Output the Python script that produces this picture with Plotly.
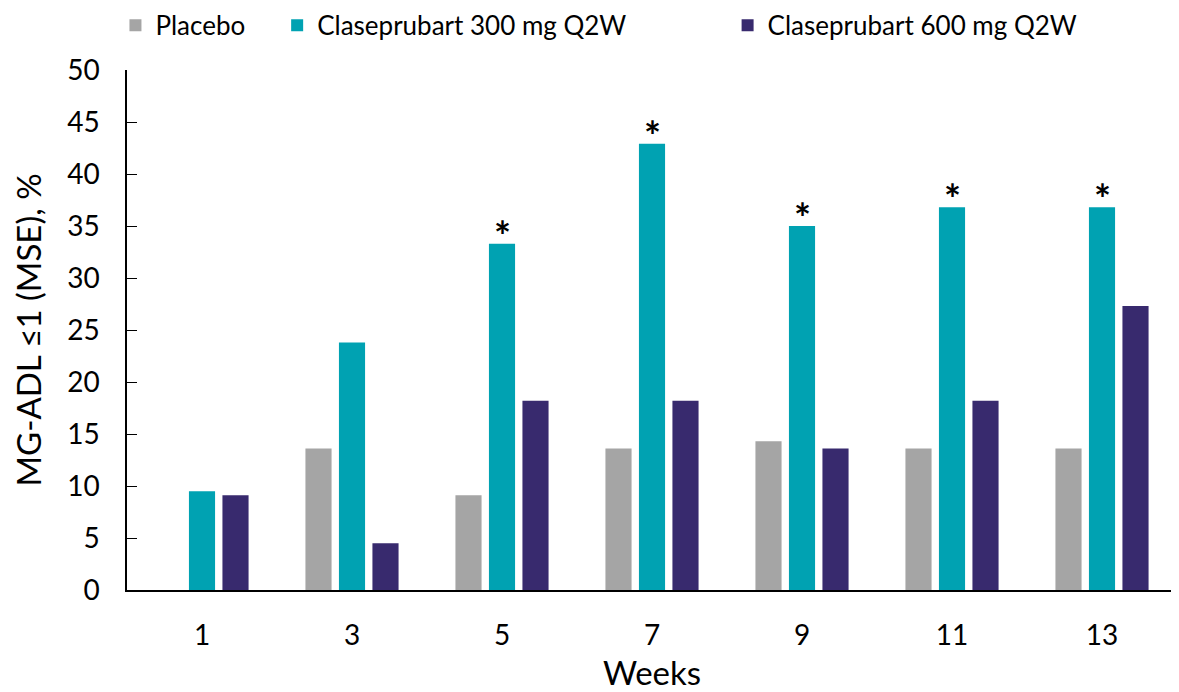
import plotly.graph_objects as go

weeks = ["1", "3", "5", "7", "9", "11", "13"]
placebo = [0, 13.6, 9.1, 13.6, 14.3, 13.6, 13.6]
dose300 = [9.5, 23.8, 33.3, 42.9, 35.0, 36.8, 36.8]
dose600 = [9.1, 4.5, 18.2, 18.2, 13.6, 18.2, 27.3]
significant = [False, False, True, True, True, True, True]

names = ["Placebo", "Claseprubart 300 mg Q2W", "Claseprubart 600 mg Q2W"]
colors = ["#A5A5A5", "#00A2B2", "#382A6E"]
legend_ids = ["legend", "legend2", "legend3"]
legend_x = [-0.011, 0.143, 0.572]

FONT = "Lato"

fig = go.Figure()
for name, vals, col, lid in zip(names, [placebo, dose300, dose600], colors, legend_ids):
    fig.add_trace(go.Bar(x=weeks, y=vals, name=name, marker_color=col,
                         marker_line_width=0, legend=lid))

for i, (v, s) in enumerate(zip(dose300, significant)):
    if s:
        fig.add_annotation(x=i, y=v, xref="x", yref="y", text="<b>*</b>", showarrow=False,
                           yanchor="middle", yshift=8,
                           font=dict(family=FONT, size=40, color="black"))

leg_common = dict(orientation="h", y=1.131, yanchor="top", xanchor="left",
                  font=dict(family=FONT, size=26), itemwidth=30,
                  bgcolor="rgba(0,0,0,0)")
layout_legends = {lid: dict(leg_common, x=lx) for lid, lx in zip(legend_ids, legend_x)}

fig.update_layout(
    width=1171, height=684,
    margin=dict(l=119, r=2, t=62, b=102, autoexpand=False),
    plot_bgcolor="white", paper_bgcolor="white",
    barmode="group", bargap=0.33, bargroupgap=0.22,
    font=dict(family=FONT, color="black"),
    showlegend=True,
    **layout_legends,
)
fig.update_xaxes(type="category", showline=True, linecolor="black", linewidth=2,
                 ticks="", tickfont=dict(family=FONT, size=28), ticklabelstandoff=19,
                 title=dict(text="Weeks", font=dict(family=FONT, size=33), standoff=26))
fig.update_yaxes(range=[0, 50], dtick=5, showgrid=False, zeroline=False,
                 showline=True, linecolor="black", linewidth=1.5,
                 ticks="inside", ticklen=10, tickcolor="black",
                 tickfont=dict(family=FONT, size=28), ticklabelstandoff=20,
                 title=dict(text="MG-ADL ≤1 (MSE), %", font=dict(family=FONT, size=33), standoff=25))

fig.write_html("out.html")
